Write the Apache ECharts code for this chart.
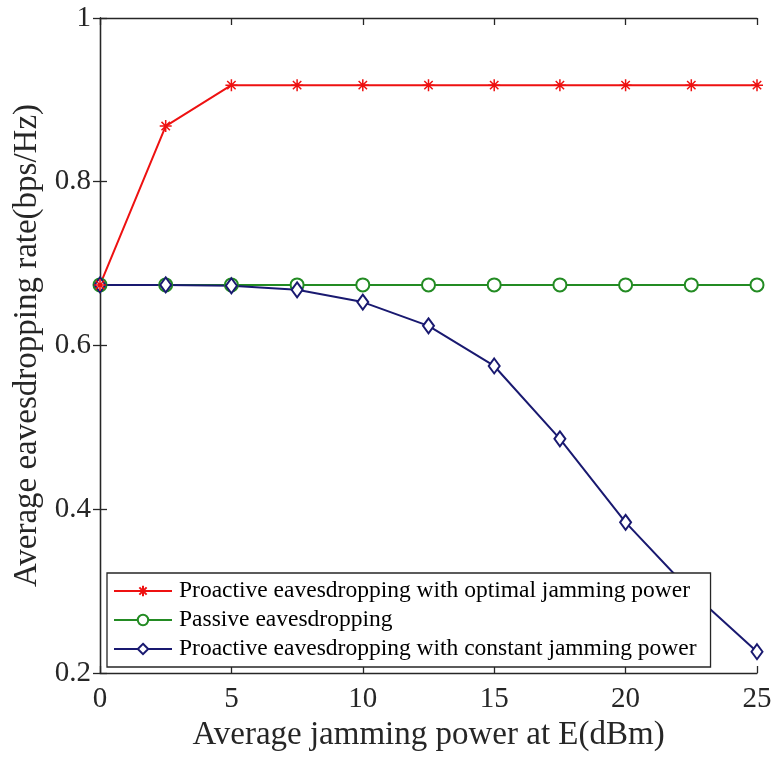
<!DOCTYPE html>
<html>
<head>
<meta charset="utf-8">
<script src="https://cdn.jsdelivr.net/npm/echarts@6/dist/echarts.min.js"></script>
<style>
  html, body { margin: 0; padding: 0; background: #fff; }
  #main { width: 775px; height: 763px; }
</style>
</head>
<body>
<div id="main"></div>
<script>
// data
const powers = [0, 2.5, 5, 7.5, 10, 12.5, 15, 17.5, 20, 22.5, 25];
const optimalRate = [0.674, 0.868, 0.918, 0.918, 0.918, 0.918, 0.918, 0.918, 0.918, 0.918, 0.918];
const passiveRate = [0.674, 0.674, 0.674, 0.674, 0.674, 0.674, 0.674, 0.674, 0.674, 0.674, 0.674];
const constantRate = [0.674, 0.674, 0.673, 0.668, 0.653, 0.624, 0.575, 0.486, 0.384, 0.299, 0.226];
const seriesNames = [
    'Proactive eavesdropping with optimal jamming power',
    'Passive eavesdropping',
    'Proactive eavesdropping with constant jamming power'
];

const font = 'Liberation Serif, Times New Roman, serif';
const asterisk = 'path://M5,0L5,10M0,5L10,5M1.5,1.5L8.5,8.5M1.5,8.5L8.5,1.5';

function pairs(ys) {
    return powers.map((x, i) => [x, ys[i]]);
}

let myChart = echarts.init(document.getElementById('main'));

const frameAxis = {
    axisLine: { show: true, lineStyle: { color: '#262626', width: 1.3 } },
    axisTick: { show: true, inside: true, length: 7, lineStyle: { color: '#262626', width: 1.3 } },
    splitLine: { show: false }
};

option = {
    animation: false,
    backgroundColor: '#fff',
    grid: { left: 100, right: 18, top: 18, bottom: 90 },
    legend: {
        z: 10,
        orient: 'vertical',
        left: 107,
        top: 573,
        backgroundColor: '#fff',
        borderColor: '#262626',
        borderWidth: 1.3,
        borderRadius: 0,
        padding: [6, 14, 6, 6],
        itemGap: 5,
        itemWidth: 58,
        itemHeight: 13,
        textStyle: { fontFamily: font, fontSize: 23.5, color: '#000', padding: [0, 0, 0, 2] },
        data: seriesNames
    },
    xAxis: [
        {
            type: 'value', min: 0, max: 25, interval: 5,
            name: 'Average jamming power at E(dBm)',
            nameLocation: 'middle', nameGap: 30,
            nameTextStyle: { fontFamily: font, fontSize: 33, color: '#262626' },
            axisLabel: { fontFamily: font, fontSize: 29, color: '#262626', margin: 12 },
            ...frameAxis
        },
        {
            type: 'value', min: 0, max: 25, interval: 5, position: 'top',
            axisLabel: { show: false },
            ...frameAxis
        }
    ],
    yAxis: [
        {
            type: 'value', min: 0.2, max: 1, interval: 0.2,
            name: 'Average eavesdropping rate(bps/Hz)',
            nameLocation: 'middle', nameGap: 55,
            nameTextStyle: { fontFamily: font, fontSize: 33, color: '#262626' },
            axisLabel: {
                fontFamily: font, fontSize: 29, color: '#262626', margin: 9,
                formatter: v => String(Math.round(v * 10) / 10)
            },
            ...frameAxis
        },
        {
            type: 'value', min: 0.2, max: 1, interval: 0.2, position: 'right',
            axisLabel: { show: false },
            ...frameAxis
        }
    ],
    // drawing order: passive below, constant above it, optimal on top
    series: [
        {
            name: seriesNames[1],
            type: 'line',
            data: pairs(passiveRate),
            z: 2,
            symbol: 'emptyCircle',
            symbolSize: 13,
            itemStyle: { color: '#238b23', borderColor: '#238b23', borderWidth: 2 },
            lineStyle: { color: '#238b23', width: 2 }
        },
        {
            name: seriesNames[2],
            type: 'line',
            data: pairs(constantRate),
            z: 2,
            symbol: 'diamond',
            symbolSize: [11, 15],
            itemStyle: { color: '#fff', borderColor: '#191970', borderWidth: 2 },
            lineStyle: { color: '#191970', width: 2 }
        },
        {
            name: seriesNames[0],
            type: 'line',
            data: pairs(optimalRate),
            z: 2,
            symbol: asterisk,
            symbolSize: 12,
            itemStyle: { color: '#ee1111', borderColor: '#ee1111', borderWidth: 1.5 },
            lineStyle: { color: '#ee1111', width: 2 }
        }
    ]
};

myChart.setOption(option);
</script>
</body>
</html>
